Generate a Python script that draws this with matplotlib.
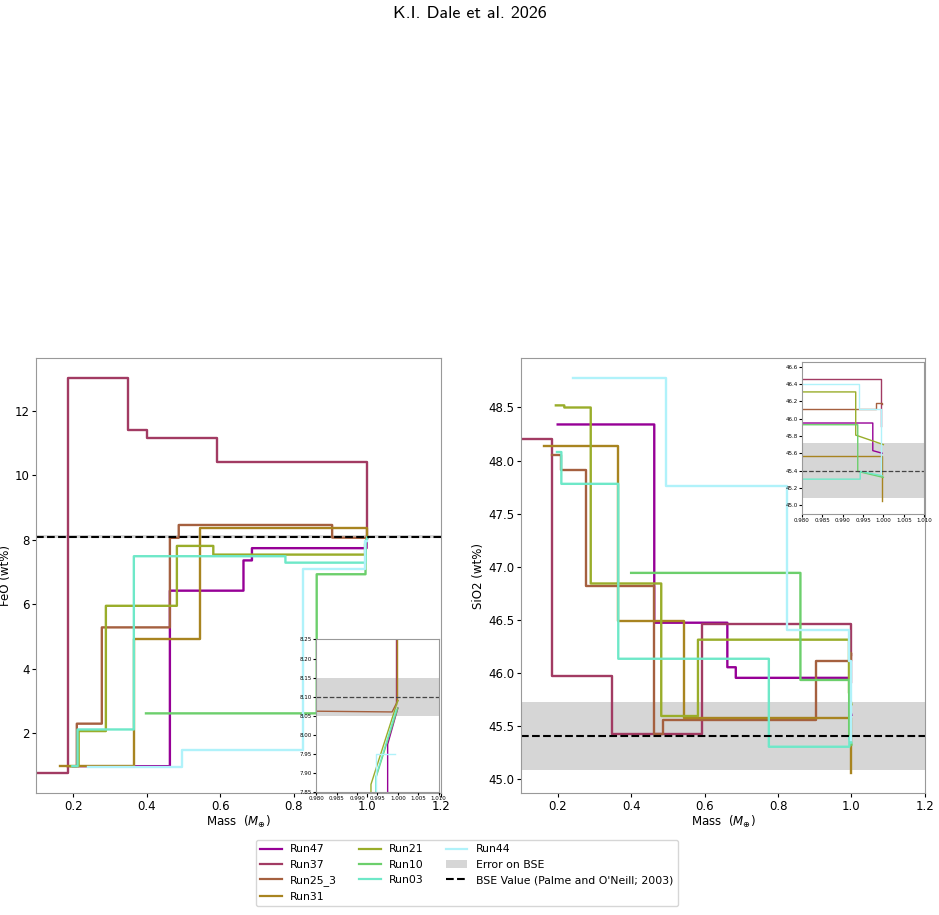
import matplotlib
matplotlib.use("Agg")
import matplotlib.pyplot as plt
from matplotlib.patches import Patch
from matplotlib.lines import Line2D

plt.rcParams['axes.edgecolor'] = '#999999'

run_names = ['Run47', 'Run37', 'Run25_3', 'Run31', 'Run21', 'Run10', 'Run03', 'Run44']
run_colors = ['#960096', '#A23B63', '#A5603F', '#A88420', '#99AD2A', '#6CCF6C', '#6EE8C8', '#B0F2FA']

# FeO (wt%) vs mass
run47_feo_m = [0.20, 0.463, 0.463, 0.663, 0.663, 0.686, 0.686, 0.9975, 0.9975, 1.0]
run47_feo = [0.97, 0.97, 6.42, 6.42, 7.36, 7.36, 7.74, 7.74, 7.975, 8.07]
run37_feo_m = [0.05, 0.185, 0.185, 0.349, 0.349, 0.40, 0.40, 0.592, 0.592, 0.9996, 0.9996]
run37_feo = [0.75, 0.75, 13.03, 13.03, 11.42, 11.42, 11.16, 11.16, 10.43, 10.43, 8.08]
run25_feo_m = [0.185, 0.21, 0.21, 0.278, 0.278, 0.463, 0.463, 0.487, 0.487, 0.904, 0.904, 0.9986, 1.0]
run25_feo = [0.97, 0.97, 2.29, 2.29, 5.28, 5.28, 8.06, 8.06, 8.46, 8.46, 8.07, 8.06, 8.09]
run31_feo_m = [0.163, 0.365, 0.365, 0.545, 0.545, 0.9997, 0.9997]
run31_feo = [0.97, 0.97, 4.92, 4.92, 8.38, 8.38, 8.09]
run21_feo_m = [0.195, 0.215, 0.215, 0.289, 0.289, 0.482, 0.482, 0.581, 0.581, 0.9934, 0.9934, 1.0]
run21_feo = [0.97, 0.97, 2.06, 2.06, 5.95, 5.95, 7.81, 7.81, 7.54, 7.54, 7.87, 8.09]
run10_feo_m = [0.398, 0.862, 0.862, 0.9947, 0.9947, 1.0]
run10_feo = [2.61, 2.61, 6.93, 6.93, 7.89, 8.07]
run03_feo_m = [0.198, 0.212, 0.212, 0.365, 0.365, 0.777, 0.777, 0.9946, 0.9946, 0.9996]
run03_feo = [0.97, 0.97, 2.11, 2.11, 7.49, 7.49, 7.29, 7.29, 7.89, 8.065]
run44_feo_m = [0.24, 0.496, 0.496, 0.826, 0.826, 0.9946, 0.9946, 0.9994]
run44_feo = [0.95, 0.95, 1.46, 1.46, 7.09, 7.09, 7.95, 7.95]

# SiO2 (wt%) vs mass
run47_si_m = [0.20, 0.463, 0.463, 0.662, 0.662, 0.685, 0.685, 0.9974, 0.9974, 0.9997]
run47_si = [48.34, 48.34, 46.47, 46.47, 46.05, 46.05, 45.95, 45.95, 45.63, 45.60]
run37_si_m = [0.05, 0.185, 0.185, 0.348, 0.348, 0.592, 0.592, 0.9994, 0.9994]
run37_si = [48.20, 48.20, 45.97, 45.97, 45.42, 45.42, 46.46, 46.46, 45.91]
run25_si_m = [0.185, 0.209, 0.209, 0.278, 0.278, 0.461, 0.461, 0.487, 0.487, 0.904, 0.904, 0.9983, 0.9983, 0.9996, 0.9996]
run25_si = [48.05, 48.05, 47.91, 47.91, 46.82, 46.82, 45.42, 45.42, 45.55, 45.55, 46.11, 46.11, 46.18, 46.18, 46.17]
run31_si_m = [0.163, 0.365, 0.365, 0.544, 0.544, 0.9997, 0.9997]
run31_si = [48.14, 48.14, 46.49, 46.49, 45.57, 45.57, 45.05]
run21_si_m = [0.195, 0.218, 0.218, 0.290, 0.290, 0.482, 0.482, 0.582, 0.582, 0.9932, 0.9932, 1.0]
run21_si = [48.52, 48.52, 48.50, 48.50, 46.84, 46.84, 45.59, 45.59, 46.31, 46.31, 45.81, 45.70]
run10_si_m = [0.40, 0.861, 0.861, 0.9937, 0.9937, 1.0]
run10_si = [46.94, 46.94, 45.93, 45.93, 45.39, 45.32]
run03_si_m = [0.198, 0.21, 0.21, 0.365, 0.365, 0.775, 0.775, 0.9943, 0.9943, 0.9997]
run03_si = [48.08, 48.08, 47.78, 47.78, 46.13, 46.13, 45.30, 45.30, 45.39, 45.34]
run44_si_m = [0.2415, 0.4937, 0.4937, 0.824, 0.824, 0.9941, 0.9941, 0.9993, 0.9993]
run44_si = [48.78, 48.78, 47.76, 47.76, 46.40, 46.40, 46.11, 46.11, 45.36]

# BSE values (Palme and O'Neill 2003) and error
bse_feo, bse_feo_lo, bse_feo_hi = 8.10, 8.05, 8.15
bse_si, bse_si_lo, bse_si_hi = 45.40, 45.08, 45.72

feo_runs = [(run47_feo_m, run47_feo), (run37_feo_m, run37_feo), (run25_feo_m, run25_feo),
            (run31_feo_m, run31_feo), (run21_feo_m, run21_feo), (run10_feo_m, run10_feo),
            (run03_feo_m, run03_feo), (run44_feo_m, run44_feo)]
si_runs = [(run47_si_m, run47_si), (run37_si_m, run37_si), (run25_si_m, run25_si),
           (run31_si_m, run31_si), (run21_si_m, run21_si), (run10_si_m, run10_si),
           (run03_si_m, run03_si), (run44_si_m, run44_si)]

fig = plt.figure(figsize=(9.39, 9.15), dpi=100)
fig.suptitle('K.I. Dale et al. 2026', y=0.985, va='center', fontsize=13, fontfamily='cmss10')

ax1 = fig.add_axes([0.0387, 0.1333, 0.4310, 0.4754])
ax2 = fig.add_axes([0.5548, 0.1333, 0.4302, 0.4754])
ins1 = fig.add_axes([0.3370, 0.1344, 0.1300, 0.1667])
ins2 = fig.add_axes([0.8541, 0.4386, 0.1300, 0.1661])

for ax, ins, runs, val, lo, hi in [(ax1, ins1, feo_runs, bse_feo, bse_feo_lo, bse_feo_hi),
                                   (ax2, ins2, si_runs, bse_si, bse_si_lo, bse_si_hi)]:
    ax.axhspan(lo, hi, color='#d6d6d6', lw=0, zorder=0)
    ins.axhspan(lo, hi, color='#d6d6d6', lw=0, zorder=0)
    for (m, v), c in zip(runs, run_colors):
        ax.plot(m, v, color=c, lw=1.7)
        ins.plot(m, v, color=c, lw=1.0)
    ax.axhline(val, color='k', ls='--', lw=1.5)
    ins.axhline(val, color='#444444', ls='--', lw=0.9)
    ax.set_xlim(0.1, 1.2)
    ax.set_xticks([0.2, 0.4, 0.6, 0.8, 1.0, 1.2])
    ax.tick_params(labelsize=8.5, length=3, pad=2)
    ax.set_xlabel(r'Mass  ($M_{\oplus}$)', fontsize=8.5, labelpad=1)
    ins.set_xlim(0.98, 1.01)
    ins.set_xticks([0.980, 0.985, 0.990, 0.995, 1.000, 1.005, 1.010])
    ins.set_xticklabels(['%.3f' % t for t in ins.get_xticks()])
    ins.tick_params(labelsize=4, length=2, pad=1)

ax1.set_ylabel('FeO (wt%)', fontsize=8.5, labelpad=2)
ax2.set_ylabel('SiO2 (wt%)', fontsize=8.5, labelpad=2)
ins1.set_ylim(7.85, 8.25)
ins2.set_ylim(44.90, 46.66)
ins2.set_yticks([45.0, 45.2, 45.4, 45.6, 45.8, 46.0, 46.2, 46.4, 46.6])

handles = [Line2D([], [], color=c, lw=1.6) for c in run_colors]
handles.append(Patch(color='#d6d6d6', lw=0))
handles.append(Line2D([], [], color='k', ls='--', lw=1.5))
labels = run_names + ['Error on BSE', "BSE Value (Palme and O'Neill; 2003)"]
fig.legend(handles, labels, loc='lower center', bbox_to_anchor=(0.497, 0.004), ncol=3, fontsize=7.8)

fig.savefig('out.png', dpi=100)
